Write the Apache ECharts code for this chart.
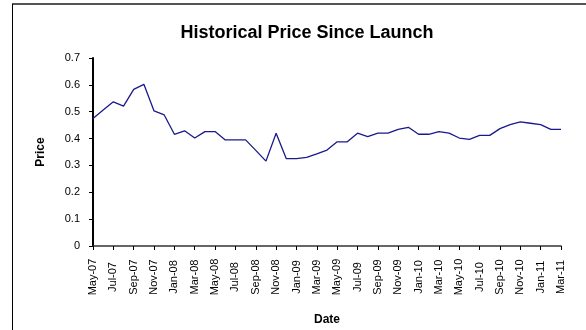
<!DOCTYPE html>
<html><head><meta charset="utf-8">
<script src="https://cdn.jsdelivr.net/npm/echarts@6/dist/echarts.min.js"></script>
<style>html,body{margin:0;padding:0;background:#fff}#c{width:586px;height:330px}</style>
</head><body><div id="c"></div>
<script>
const months = ["May-07","Jun-07","Jul-07","Aug-07","Sep-07","Oct-07","Nov-07","Dec-07",
"Jan-08","Feb-08","Mar-08","Apr-08","May-08","Jun-08","Jul-08","Aug-08","Sep-08","Oct-08","Nov-08","Dec-08",
"Jan-09","Feb-09","Mar-09","Apr-09","May-09","Jun-09","Jul-09","Aug-09","Sep-09","Oct-09","Nov-09","Dec-09",
"Jan-10","Feb-10","Mar-10","Apr-10","May-10","Jun-10","Jul-10","Aug-10","Sep-10","Oct-10","Nov-10","Dec-10",
"Jan-11","Feb-11","Mar-11"];
const prices = [0.475,0.506,0.537,0.521,0.583,0.602,0.503,0.488,
0.416,0.429,0.402,0.426,0.426,0.395,0.395,0.395,0.356,0.316,0.420,0.325,
0.325,0.330,0.343,0.357,0.388,0.388,0.420,0.407,0.420,0.420,0.434,0.442,
0.416,0.416,0.426,0.420,0.402,0.397,0.412,0.412,0.437,0.452,0.462,0.457,
0.452,0.434,0.434];
const yTicks = [0,0.1,0.2,0.3,0.4,0.5,0.6,0.7];

const chart = echarts.init(document.getElementById('c'));
const F = 'Liberation Sans, Arial, sans-serif';
chart.setOption({
  animation:false,
  title:{text:'Historical Price Since Launch',left:302,textAlign:'center',top:19,
    textStyle:{fontFamily:F,fontSize:18,fontWeight:'bold',color:'#000'}},
  graphic:[
    {type:'line',shape:{x1:12,y1:4,x2:586,y2:4},style:{stroke:'#555',lineWidth:2}},
    {type:'line',shape:{x1:12.5,y1:4,x2:12.5,y2:330},style:{stroke:'#000',lineWidth:1}}
  ],
  grid:{left:93,right:25,top:58,bottom:84,outerBoundsMode:'none',containLabel:false},
  xAxis:{type:'category',data:months,boundaryGap:false,
    name:'Date',nameLocation:'middle',nameGap:68,
    nameTextStyle:{fontFamily:F,fontSize:12,fontWeight:'bold',color:'#000'},
    axisLine:{lineStyle:{color:'#333',width:1.5}},
    axisTick:{interval:1,length:4,lineStyle:{color:'#000'}},
    axisLabel:{interval:1,rotate:90,align:'center',verticalAlign:'middle',fontFamily:F,fontSize:11,color:'#000',margin:31}},
  yAxis:{type:'value',min:0,max:0.7,interval:0.1,
    name:'Price',nameLocation:'middle',nameGap:46,
    nameTextStyle:{fontFamily:F,fontSize:12,fontWeight:'bold',color:'#000'},
    axisLine:{show:true,lineStyle:{color:'#000',width:2}},
    axisTick:{show:true,length:4,lineStyle:{color:'#000'}},
    splitLine:{show:false},
    axisLabel:{fontFamily:F,fontSize:11,color:'#000',margin:13,
      formatter:v=>{const t=yTicks.find(x=>Math.abs(x-v)<1e-9);return t===undefined?'':String(t);}}},
  series:[{type:'line',data:prices,symbol:'none',lineStyle:{color:'#1a1a8c',width:1.3}}]
});
</script></body></html>
